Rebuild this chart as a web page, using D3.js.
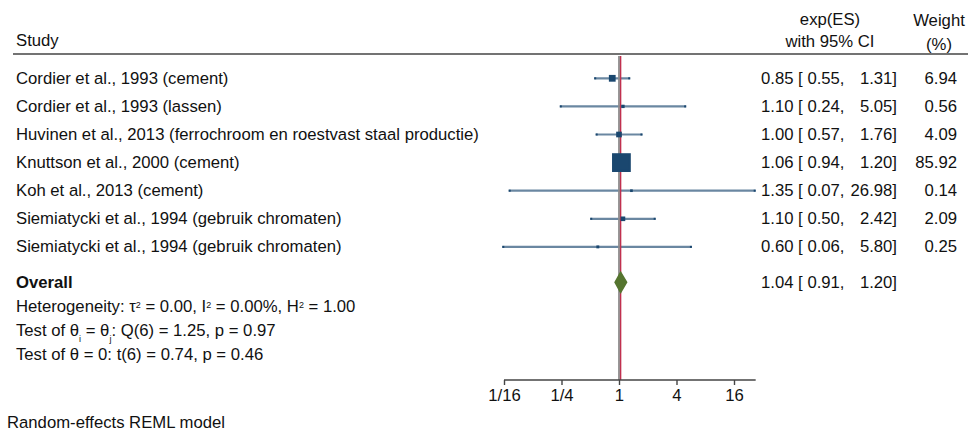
<!DOCTYPE html>
<html>
<head>
<meta charset="utf-8">
<script src="https://cdn.jsdelivr.net/npm/d3@7"></script>
<style>
  body { margin: 0; background: #fff; }
  text { font-family: "Liberation Sans", Arial, sans-serif; fill: #111; }
</style>
</head>
<body>
<div id="chart"></div>
<script>
// Study data
const studies = [
    "Cordier et al., 1993 (cement)",
    "Cordier et al., 1993 (lassen)",
    "Huvinen et al., 2013 (ferrochroom en roestvast staal productie)",
    "Knuttson et al., 2000 (cement)",
    "Koh et al., 2013 (cement)",
    "Siemiatycki et al., 1994 (gebruik chromaten)",
    "Siemiatycki et al., 1994 (gebruik chromaten)"
];
const es = [0.85, 1.10, 1.00, 1.06, 1.35, 1.10, 0.60];
const lo = [0.55, 0.24, 0.57, 0.94, 0.07, 0.50, 0.06];
const hi = [1.31, 5.05, 1.76, 1.20, 26.98, 2.42, 5.80];
const weights = [6.94, 0.56, 4.09, 85.92, 0.14, 2.09, 0.25];

// Overall estimate
const overallEs = 1.04;
const overallLo = 0.91;
const overallHi = 1.20;

// Axis ticks
const tickValues = [1 / 16, 1 / 4, 1, 4, 16];
const tickLabels = ["1/16", "1/4", "1", "4", "16"];

const width = 968;
const height = 433;
const fontSize = 16.7;

const svg = d3.select("#chart")
    .append("svg")
    .attr("width", width)
    .attr("height", height);

// Scales
const x = d3.scaleLog().base(2)
    .domain([1 / 16, 16])
    .range([504, 734]);

const y = d3.scaleLinear()
    .domain([0, studies.length - 1])
    .range([78.3, 246.9]);

const yOverall = 282.3;
const plotTop = 56;
const axisY = 380;

const size = d3.scaleSqrt()
    .domain([0, 100])
    .range([0, 18.1]);

const navy = "#1a476f";

// Header
const header = svg.append("g").attr("font-size", fontSize);
header.append("text").attr("x", 16).attr("y", 40).attr("dominant-baseline", "central").text("Study");
header.append("text").attr("x", 830).attr("y", 19).attr("text-anchor", "middle").attr("dominant-baseline", "central").text("exp(ES)");
header.append("text").attr("x", 830).attr("y", 41).attr("text-anchor", "middle").attr("dominant-baseline", "central").text("with 95% CI");
header.append("text").attr("x", 939).attr("y", 20).attr("text-anchor", "middle").attr("dominant-baseline", "central").text("Weight");
header.append("text").attr("x", 939).attr("y", 44).attr("text-anchor", "middle").attr("dominant-baseline", "central").text("(%)");

svg.append("line")
    .attr("x1", 13).attr("x2", width)
    .attr("y1", 54).attr("y2", 54)
    .attr("stroke", "#444")
    .attr("stroke-width", 1.6);

const idx = d3.range(studies.length);

// Confidence interval lines
svg.append("g")
    .selectAll("line")
    .data(idx)
    .join("line")
    .attr("x1", i => x(lo[i]))
    .attr("x2", i => x(hi[i]))
    .attr("y1", i => y(i))
    .attr("y2", i => y(i))
    .attr("stroke", navy)
    .attr("stroke-opacity", 0.65)
    .attr("stroke-width", 2.2);

// small darker end caps
svg.append("g")
    .selectAll("rect")
    .data(idx.flatMap(i => [[i, lo[i], 0], [i, hi[i], -2]]))
    .join("rect")
    .attr("x", d => x(d[1]) + d[2])
    .attr("y", d => y(d[0]) - 1)
    .attr("width", 2)
    .attr("height", 2)
    .attr("fill", navy);

// No-effect line and overall line
svg.append("line")
    .attr("x1", x(1)).attr("x2", x(1))
    .attr("y1", plotTop).attr("y2", axisY)
    .attr("stroke", "#8c8c8c")
    .attr("stroke-width", 1.8);

svg.append("line")
    .attr("x1", x(overallEs)).attr("x2", x(overallEs))
    .attr("y1", plotTop).attr("y2", axisY)
    .attr("stroke", "#c0304f")
    .attr("stroke-width", 1.4);

// Weighted markers
svg.append("g")
    .selectAll("rect")
    .data(idx)
    .join("rect")
    .attr("x", i => x(es[i]) - size(weights[i]) / 2)
    .attr("y", i => y(i) - size(weights[i]) / 2)
    .attr("width", i => size(weights[i]))
    .attr("height", i => size(weights[i]))
    .attr("fill", navy)
    .attr("stroke", navy)
    .attr("stroke-width", 2);

// Overall diamond
svg.append("path")
    .attr("d", `M${x(overallLo)},${yOverall} L${x(overallEs)},${yOverall - 10} L${x(overallHi)},${yOverall} L${x(overallEs)},${yOverall + 10} Z`)
    .attr("fill", "#55752f")
    .attr("stroke", "#55752f")
    .attr("stroke-width", 1.6);

// Study labels and numbers
const fmt = d3.format(".2f");
const rows = svg.append("g").attr("font-size", fontSize);

rows.selectAll("text.study")
    .data(idx)
    .join("text")
    .attr("class", "study")
    .attr("x", 16)
    .attr("y", i => y(i))
    .attr("dominant-baseline", "central")
    .text(i => studies[i]);

rows.selectAll("text.est")
    .data(idx)
    .join("text")
    .attr("class", "est")
    .attr("x", 761)
    .attr("y", i => y(i))
    .attr("dominant-baseline", "central")
    .text(i => `${fmt(es[i])} [ ${fmt(lo[i])},`);

rows.selectAll("text.hi")
    .data(idx)
    .join("text")
    .attr("class", "hi")
    .attr("x", 897)
    .attr("y", i => y(i))
    .attr("text-anchor", "end")
    .attr("dominant-baseline", "central")
    .text(i => `${fmt(hi[i])}]`);

rows.selectAll("text.weight")
    .data(idx)
    .join("text")
    .attr("class", "weight")
    .attr("x", 957)
    .attr("y", i => y(i))
    .attr("text-anchor", "end")
    .attr("dominant-baseline", "central")
    .text(i => fmt(weights[i]));

// Overall row
rows.append("text")
    .attr("x", 16).attr("y", yOverall)
    .attr("dominant-baseline", "central")
    .attr("font-weight", "bold")
    .text("Overall");
rows.append("text")
    .attr("x", 761).attr("y", yOverall)
    .attr("dominant-baseline", "central")
    .text(`${fmt(overallEs)} [ ${fmt(overallLo)},`);
rows.append("text")
    .attr("x", 897).attr("y", yOverall)
    .attr("text-anchor", "end")
    .attr("dominant-baseline", "central")
    .text(`${fmt(overallHi)}]`);

// Heterogeneity and tests
const het = rows.append("text").attr("x", 16).attr("y", 311.5);
het.append("tspan").text("Heterogeneity: τ");
het.append("tspan").attr("font-size", 9).attr("dy", -4).text("2");
het.append("tspan").attr("dy", 4).text(" = 0.00, I");
het.append("tspan").attr("font-size", 9).attr("dy", -4).text("2");
het.append("tspan").attr("dy", 4).text(" = 0.00%, H");
het.append("tspan").attr("font-size", 9).attr("dy", -4).text("2");
het.append("tspan").attr("dy", 4).text(" = 1.00");

const t1 = rows.append("text").attr("x", 16).attr("y", 336);
t1.append("tspan").text("Test of θ");
t1.append("tspan").attr("font-size", 9).attr("dy", 6).text("i");
t1.append("tspan").attr("dy", -6).text(" = θ");
t1.append("tspan").attr("font-size", 9).attr("dy", 6).text("j");
t1.append("tspan").attr("dy", -6).text(": Q(6) = 1.25, p = 0.97");

rows.append("text").attr("x", 16).attr("y", 360)
    .text("Test of θ = 0: t(6) = 0.74, p = 0.46");

// X axis
const axis = svg.append("g")
    .attr("transform", `translate(0,${axisY})`)
    .call(d3.axisBottom(x)
        .tickValues(tickValues)
        .tickFormat((d, i) => tickLabels[i])
        .tickSize(5)
        .tickPadding(4));

axis.select(".domain").remove();
axis.selectAll(".tick line").attr("stroke", "#444").attr("stroke-width", 1.4);
axis.selectAll(".tick text")
    .attr("font-size", fontSize)
    .attr("font-family", "Liberation Sans, Arial, sans-serif")
    .attr("fill", "#111");

svg.append("line")
    .attr("x1", x(1 / 16)).attr("x2", x(d3.max(hi)))
    .attr("y1", axisY).attr("y2", axisY)
    .attr("stroke", "#444")
    .attr("stroke-width", 1.4);

// Footnote
svg.append("text")
    .attr("x", 7).attr("y", 422)
    .attr("dominant-baseline", "central")
    .attr("font-size", fontSize)
    .text("Random-effects REML model");
</script>
</body>
</html>
